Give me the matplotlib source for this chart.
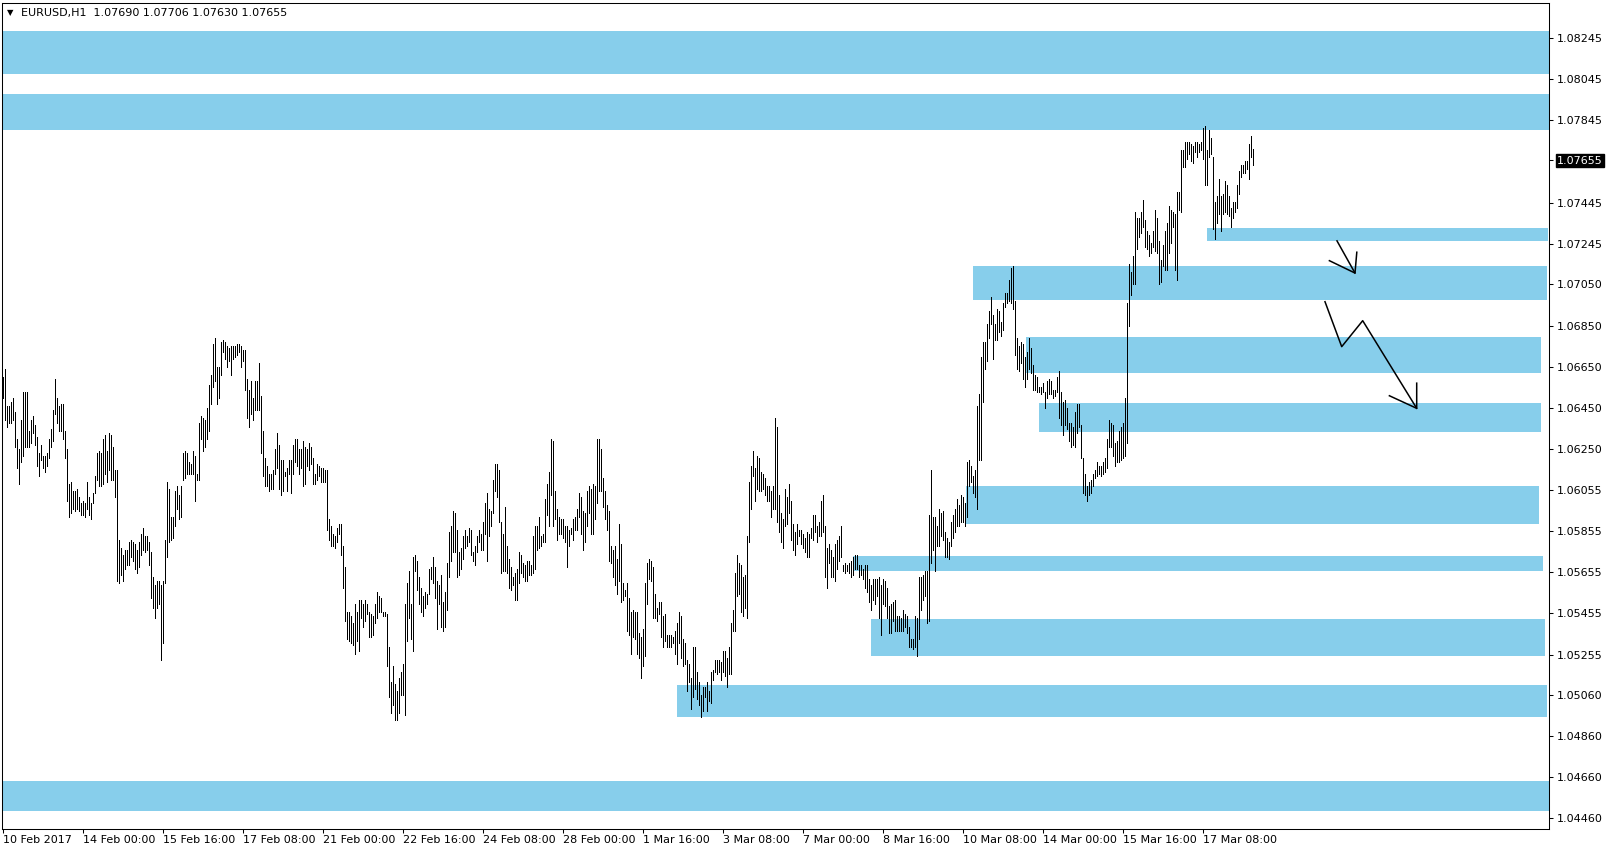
import matplotlib
matplotlib.use("Agg")
import matplotlib.pyplot as plt

# ---------------- data ----------------
title_text = "EURUSD,H1  1.07690 1.07706 1.07630 1.07655"
last_price = 1.07655

high = [
 1.0660,1.0664,1.0646,1.0646,1.0648,1.0650,1.0643,1.0630,1.0625,1.0639,
 1.0653,1.0653,1.0653,1.0634,1.0639,1.0641,1.0637,1.0631,1.0623,1.0627,
 1.0622,1.0622,1.0623,1.0630,1.0635,1.0644,1.0659,1.0650,1.0646,1.0647,
 1.0647,1.0634,1.0625,1.0608,1.0609,1.0605,1.0605,1.0606,1.0602,1.0599,
 1.0600,1.0599,1.0609,1.0602,1.0599,1.0604,1.0612,1.0623,1.0624,1.0623,
 1.0630,1.0632,1.0624,1.0633,1.0632,1.0626,1.0615,1.0615,1.0581,1.0577,
 1.0574,1.0576,1.0576,1.0580,1.0581,1.0580,1.0579,1.0576,1.0580,1.0584,
 1.0587,1.0583,1.0583,1.0580,1.0575,1.0563,1.0559,1.0561,1.0561,1.0559,
 1.0561,1.0581,1.0609,1.0606,1.0592,1.0592,1.0605,1.0607,1.0603,1.0607,
 1.0623,1.0624,1.0623,1.0619,1.0618,1.0624,1.0622,1.0613,1.0638,1.0641,
 1.0640,1.0639,1.0645,1.0656,1.0661,1.0676,1.0679,1.0665,1.0665,1.0677,
 1.0678,1.0677,1.0675,1.0674,1.0675,1.0675,1.0675,1.0676,1.0676,1.0675,
 1.0673,1.0673,1.0659,1.0654,1.0658,1.0650,1.0658,1.0658,1.0667,1.0651,
 1.0634,1.0621,1.0617,1.0613,1.0613,1.0615,1.0625,1.0633,1.0627,1.0620,
 1.0620,1.0614,1.0616,1.0620,1.0620,1.0627,1.0630,1.0630,1.0625,1.0625,
 1.0629,1.0626,1.0625,1.0628,1.0626,1.0621,1.0613,1.0618,1.0617,1.0616,
 1.0616,1.0615,1.0615,1.0591,
 1.0588,1.0584,1.0583,1.0587,1.0589,1.0589,1.0578,1.0568,1.0546,1.0546,
 1.0544,1.0541,1.0550,1.0546,1.0552,1.0552,1.0550,1.0552,1.0550,1.0546,
 1.0545,1.0544,1.0550,1.0556,1.0554,1.0553,1.0546,1.0546,1.0545,1.0529,
 1.0512,1.0520,1.0511,1.0508,1.0514,1.0517,1.0521,1.0550,1.0560,1.0566,
 1.0550,1.0573,1.0574,1.0571,1.0563,1.0558,1.0554,1.0556,1.0555,1.0567,
 1.0568,1.0573,1.0568,1.0561,1.0559,1.0564,1.0551,1.0556,1.0570,1.0585,
 1.0588,1.0595,1.0594,1.0586,1.0575,1.0577,1.0583,1.0586,1.0583,1.0587,
 1.0586,1.0575,1.0578,1.0583,1.0586,1.0584,1.0590,1.0599,1.0604,1.0596,
 1.0595,1.0610,1.0618,1.0618,1.0615,1.0590,1.0584,1.0597,1.0578,1.0572,
 1.0568,1.0563,1.0565,1.0567,1.0575,1.0574,1.0570,1.0569,1.0571,1.0571,
 1.0569,1.0583,1.0588,1.0588,1.0592,1.0583,1.0584,1.0601,1.0608,1.0614,
 1.0630,1.0629,1.0605,1.0596,1.0592,1.0591,1.0591,1.0588,1.0588,1.0586,
 1.0587,1.0591,1.0592,1.0596,1.0604,1.0602,1.0595,1.0594,1.0605,1.0607,
 1.0606,1.0608,1.0607,1.0630,1.0630,1.0625,1.0611,1.0605,1.0598,1.0595,
 1.0578,1.0576,1.0578,1.0572,1.0589,1.0579,1.0560,1.0557,1.0560,1.0553,
 1.0546,1.0547,1.0546,1.0546,1.0536,
 1.0534,1.0538,1.0560,1.0570,1.0572,1.0571,1.0568,1.0555,1.0548,1.0551,
 1.0551,1.0544,1.0545,1.0535,1.0535,1.0535,1.0534,1.0537,1.0541,1.0546,
 1.0544,1.0533,1.0531,1.0523,1.0521,1.0514,1.0529,1.0529,1.0517,1.0512,
 1.0506,1.0510,1.0510,1.0512,1.0508,1.0517,1.0518,1.0523,1.0523,1.0523,
 1.0522,1.0527,1.0527,1.0524,1.0529,1.0541,1.0547,1.0565,1.0574,1.0570,
 1.0569,1.0563,1.0564,1.0583,1.0609,1.0617,1.0624,1.0616,1.0622,1.0621,
 1.0614,1.0613,1.0611,1.0607,1.0607,1.0605,1.0607,1.0640,1.0636,1.0603,
 1.0594,1.0591,1.0606,1.0602,1.0608,1.0600,1.0589,1.0585,1.0589,1.0586,
 1.0586,1.0584,1.0582,1.0585,1.0584,1.0587,1.0593,1.0593,1.0588,1.0590,
 1.0600,1.0603,1.0588,1.0577,1.0579,1.0576,1.0573,1.0579,1.0581,1.0583,
 1.0588,1.0569,1.0570,1.0569,1.0570,1.0571,1.0573,1.0574,1.0574,1.0569,
 1.0569,1.0567,1.0569,1.0569,1.0562,1.0559,1.0562,1.0562,1.0562,1.0563,
 1.0559,1.0562,1.0561,1.0558,1.0549,1.0550,1.0551,1.0552,1.0544,1.0544,
 1.0543,1.0547,1.0545,1.0544,1.0539,1.0533,1.0533,1.0544,1.0543,1.0563,
 1.0563,1.0564,1.0566,1.0566,1.0593,1.0615,1.0592,1.0592,1.0588,1.0596,
 1.0594,1.0595,1.0585,1.0582,1.0580,
 1.0590,1.0593,1.0596,1.0601,1.0598,1.0603,1.0602,1.0599,1.0619,1.0620,
 1.0617,1.0612,1.0615,1.0646,1.0652,1.0670,1.0677,1.0677,1.0686,1.0692,
 1.0699,1.0690,1.0686,1.0693,1.0692,1.0687,1.0696,1.0701,1.0701,1.0707,
 1.0713,1.0714,1.0697,1.0679,1.0675,1.0677,1.0676,1.0670,1.0672,1.0679,
 1.0674,1.0666,1.0661,1.0660,1.0655,1.0655,1.0657,1.0653,1.0658,1.0659,
 1.0658,1.0654,1.0654,1.0660,1.0663,1.0653,1.0648,1.0649,1.0645,1.0638,
 1.0638,1.0636,1.0643,1.0647,1.0647,1.0637,1.0621,1.0613,1.0607,1.0609,
 1.0610,1.0613,1.0615,1.0619,1.0617,1.0617,1.0619,1.0621,1.0630,1.0639,
 1.0638,1.0637,1.0628,1.0629,1.0634,
 1.0636,1.0638,1.0650,1.0696,1.0715,
 1.0711,1.0719,1.0740,1.0737,1.0737,1.0740,1.0746,1.0736,1.0731,1.0729,
 1.0725,1.0731,1.0741,1.0737,1.0726,1.0717,1.0724,1.0731,1.0735,1.0743,
 1.0741,1.0740,1.0739,1.0750,1.0750,1.0770,1.0770,1.0774,1.0774,1.0774,
 1.0773,1.0772,1.0774,1.0774,1.0773,1.0774,1.0781,1.0782,1.0770,1.0780,
 1.0776,1.0767,1.0745,1.0748,1.0756,1.0748,1.0749,1.0755,1.0753,1.0748,
 1.0742,1.0745,1.0745,1.0753,1.0760,1.0763,1.0763,1.0765,1.0765,1.0773,
 1.0777,1.07706,
]

low = [
 1.0650,1.0639,1.0636,1.0638,1.0638,1.0639,1.0626,1.0616,1.0608,1.0619,
 1.0622,1.0626,1.0626,1.0626,1.0628,1.0633,1.0627,1.0617,1.0612,1.0620,
 1.0616,1.0614,1.0617,1.0621,1.0626,1.0629,1.0642,1.0638,1.0634,1.0634,
 1.0630,1.0621,1.0600,1.0592,1.0594,1.0596,1.0595,1.0596,1.0595,1.0593,
 1.0593,1.0592,1.0596,1.0593,1.0591,1.0599,1.0604,1.0610,1.0607,1.0607,
 1.0608,1.0613,1.0609,1.0615,1.0610,1.0610,1.0602,1.0561,1.0560,1.0564,
 1.0561,1.0567,1.0569,1.0569,1.0573,1.0571,1.0567,1.0565,1.0568,1.0574,
 1.0576,1.0575,1.0576,1.0569,1.0553,1.0548,1.0543,1.0548,1.0550,1.0523,
 1.0531,1.0560,1.0573,1.0580,1.0581,1.0582,1.0588,1.0596,1.0591,1.0592,
 1.0610,1.0611,1.0613,1.0613,1.0613,1.0613,1.0600,1.0610,1.0610,1.0630,
 1.0624,1.0626,1.0630,1.0634,1.0647,1.0655,1.0658,1.0647,1.0650,1.0661,
 1.0672,1.0669,1.0665,1.0668,1.0661,1.0669,1.0670,1.0671,1.0672,1.0665,
 1.0668,1.0654,1.0640,1.0636,1.0642,1.0639,1.0644,1.0644,1.0644,1.0623,
 1.0612,1.0607,1.0607,1.0605,1.0606,1.0606,1.0613,1.0616,1.0606,1.0603,
 1.0605,1.0612,1.0605,1.0613,1.0604,1.0613,1.0619,1.0617,1.0613,1.0616,
 1.0607,1.0608,1.0617,1.0615,1.0618,1.0608,1.0608,1.0610,1.0612,1.0609,
 1.0609,1.0609,1.0586,1.0581,
 1.0578,1.0578,1.0577,1.0580,1.0584,1.0574,1.0558,1.0542,1.0533,1.0532,
 1.0531,1.0530,1.0526,1.0532,1.0527,1.0543,1.0539,1.0542,1.0545,1.0534,
 1.0534,1.0535,1.0541,1.0543,1.0546,1.0546,1.0544,1.0544,1.0520,1.0505,
 1.0497,1.0501,1.0494,1.0494,1.0497,1.0506,1.0506,1.0496,1.0532,1.0543,
 1.0533,1.0527,1.0566,1.0557,1.0550,1.0546,1.0544,1.0548,1.0550,1.0555,
 1.0562,1.0560,1.0553,1.0538,1.0550,1.0539,1.0537,1.0539,1.0547,1.0563,
 1.0571,1.0575,1.0575,1.0563,1.0564,1.0567,1.0572,1.0577,1.0578,1.0580,
 1.0574,1.0571,1.0569,1.0575,1.0580,1.0576,1.0576,1.0584,1.0571,1.0583,
 1.0588,1.0594,1.0605,1.0602,1.0590,1.0565,1.0566,1.0566,1.0565,1.0558,
 1.0557,1.0559,1.0552,1.0552,1.0560,1.0565,1.0563,1.0561,1.0561,1.0564,
 1.0564,1.0565,1.0567,1.0576,1.0577,1.0578,1.0580,1.0580,1.0593,1.0588,
 1.0603,1.0588,1.0591,1.0581,1.0584,1.0584,1.0582,1.0580,1.0568,1.0578,
 1.0584,1.0581,1.0586,1.0586,1.0592,1.0584,1.0576,1.0580,1.0588,1.0594,
 1.0584,1.0584,1.0591,1.0599,1.0605,1.0605,1.0597,1.0591,1.0586,1.0571,
 1.0570,1.0563,1.0559,1.0555,1.0561,1.0551,1.0552,1.0554,1.0537,1.0535,
 1.0526,1.0534,1.0533,1.0526,1.0524,
 1.0514,1.0520,1.0525,1.0550,1.0562,1.0561,1.0543,1.0543,1.0542,1.0545,
 1.0534,1.0529,1.0532,1.0529,1.0529,1.0529,1.0531,1.0526,1.0521,1.0531,
 1.0524,1.0520,1.0521,1.0508,1.0512,1.0499,1.0505,1.0509,1.0504,1.0501,
 1.0495,1.0498,1.0505,1.0498,1.0503,1.0502,1.0513,1.0517,1.0516,1.0517,
 1.0513,1.0517,1.0515,1.0510,1.0516,1.0516,1.0537,1.0537,1.0554,1.0555,
 1.0546,1.0544,1.0548,1.0543,1.0580,1.0596,1.0612,1.0600,1.0606,1.0605,
 1.0605,1.0606,1.0603,1.0600,1.0600,1.0592,1.0596,1.0596,1.0590,1.0585,
 1.0580,1.0577,1.0588,1.0589,1.0594,1.0581,1.0576,1.0574,1.0579,1.0583,
 1.0579,1.0577,1.0575,1.0573,1.0573,1.0582,1.0581,1.0585,1.0580,1.0583,
 1.0583,1.0585,1.0563,1.0558,1.0570,1.0563,1.0563,1.0561,1.0567,1.0571,
 1.0573,1.0566,1.0565,1.0566,1.0565,1.0563,1.0564,1.0567,1.0567,1.0563,
 1.0564,1.0562,1.0558,1.0556,1.0551,1.0547,1.0552,1.0550,1.0554,1.0543,
 1.0535,1.0550,1.0549,1.0543,1.0536,1.0536,1.0542,1.0537,1.0537,1.0537,
 1.0537,1.0537,1.0539,1.0536,1.0529,1.0529,1.0528,1.0529,1.0525,1.0533,
 1.0547,1.0552,1.0554,1.0541,1.0542,1.0570,1.0576,1.0566,1.0578,1.0578,
 1.0583,1.0581,1.0573,1.0573,1.0572,
 1.0578,1.0582,1.0585,1.0588,1.0588,1.0590,1.0590,1.0588,1.0592,1.0607,
 1.0609,1.0604,1.0602,1.0596,1.0620,1.0620,1.0648,1.0664,1.0668,1.0679,
 1.0686,1.0669,1.0678,1.0678,1.0682,1.0680,1.0683,1.0694,1.0696,1.0697,
 1.0696,1.0693,1.0671,1.0664,1.0663,1.0667,1.0659,1.0655,1.0659,1.0664,
 1.0662,1.0654,1.0654,1.0653,1.0653,1.0652,1.0653,1.0645,1.0650,1.0652,
 1.0652,1.0650,1.0651,1.0653,1.0640,1.0637,1.0632,1.0637,1.0635,1.0629,
 1.0626,1.0627,1.0626,1.0633,1.0636,1.0621,1.0604,1.0603,1.0600,1.0603,
 1.0604,1.0607,1.0611,1.0612,1.0613,1.0612,1.0613,1.0614,1.0616,1.0626,
 1.0626,1.0622,1.0617,1.0619,1.0619,
 1.0620,1.0621,1.0622,1.0628,1.0685,
 1.0700,1.0705,1.0705,1.0722,1.0728,1.0730,1.0733,1.0723,1.0722,1.0719,
 1.0720,1.0723,1.0721,1.0720,1.0705,1.0706,1.0714,1.0712,1.0712,1.0720,
 1.0725,1.0733,1.0712,1.0707,1.0741,1.0740,1.0762,1.0762,1.0766,1.0768,
 1.0765,1.0764,1.0769,1.0767,1.0769,1.0770,1.0766,1.0753,1.0753,1.0767,
 1.0768,1.0732,1.0727,1.0735,1.0739,1.0731,1.0739,1.0740,1.0739,1.0738,
 1.0733,1.0737,1.0740,1.0742,1.0749,1.0757,1.0759,1.0759,1.0761,1.0756,
 1.0767,1.07630,
]

# supply/demand zones (price top/bottom, start/end in bar index)
zone_top    = [1.08280, 1.07971, 1.07324, 1.07139, 1.06795, 1.06477, 1.06073, 1.05733, 1.05427, 1.05107, 1.04642]
zone_bottom = [1.08071, 1.07797, 1.07261, 1.06974, 1.06622, 1.06334, 1.05890, 1.05660, 1.05246, 1.04952, 1.04498]
zone_start  = [-0.5, -0.5, 602, 484.75, 511.25, 518, 481.5, 424.75, 434, 337, -0.5]
zone_end    = [772.75, 772.75, 772.5, 772, 769, 769, 768, 770, 771, 772, 772.75]

# hand-drawn arrows (bar index, price)
arrow1_x = [667, 676]
arrow1_y = [1.07261, 1.07105]
head1_x = [663.2, 676, 676.9]
head1_y = [1.07165, 1.07105, 1.07206]
arrow2_x = [661, 669.35, 679.85, 706.85]
arrow2_y = [1.06966, 1.06748, 1.06874, 1.06449]
head2_x = [693.2, 706.85, 706.85]
head2_y = [1.06510, 1.06449, 1.06571]

ytick_values = [1.08245, 1.08045, 1.07845, 1.07655, 1.07445, 1.07245, 1.07050, 1.06850,
                1.06650, 1.06450, 1.06250, 1.06055, 1.05855, 1.05655, 1.05455, 1.05255,
                1.05060, 1.04860, 1.04660, 1.04460]
xtick_bars = [0, 40, 80, 120, 160, 200, 240, 280, 320, 360, 400, 440, 480, 520, 560, 600]
xtick_labels = ["10 Feb 2017", "14 Feb 00:00", "15 Feb 16:00", "17 Feb 08:00", "21 Feb 00:00",
                "22 Feb 16:00", "24 Feb 08:00", "28 Feb 00:00", "1 Mar 16:00", "3 Mar 08:00",
                "7 Mar 00:00", "8 Mar 16:00", "10 Mar 08:00", "14 Mar 00:00", "15 Mar 16:00",
                "17 Mar 08:00"]

# ---------------- figure ----------------
W, H = 1610, 852
fig = plt.figure(figsize=(W / 100, H / 100), dpi=100)
fig.patch.set_facecolor("white")
L_px, R_px, T_px, B_px = 2, 1548.5, 2.5, 829
ax = fig.add_axes([L_px / W, 1 - B_px / H, (R_px - L_px) / W, (B_px - T_px) / H])
ax.set_facecolor("white")

zone_color = "#87CEEB"
for zt, zb, zs, ze in zip(zone_top, zone_bottom, zone_start, zone_end):
    ax.fill_between([zs, ze], [zb, zb], [zt, zt], color=zone_color, lw=0, zorder=1)

xs = list(range(len(high)))
ax.vlines(xs, low, high, colors="black", linewidth=0.6, antialiased=False, zorder=3)

ax.plot(arrow1_x, arrow1_y, color="black", lw=1.1, zorder=4)
ax.plot(head1_x, head1_y, color="black", lw=1.1, zorder=4, solid_joinstyle="miter")
ax.plot(arrow2_x, arrow2_y, color="black", lw=1.1, zorder=4)
ax.plot(head2_x, head2_y, color="black", lw=1.1, zorder=4, solid_joinstyle="miter")

ax.set_xlim(-0.5, 772.75)
ax.set_ylim(1.04409, 1.08417)

for s in ax.spines.values():
    s.set_color("black")
    s.set_linewidth(0.75)

ax.yaxis.tick_right()
ax.set_yticks(ytick_values)
ax.set_yticklabels([f"{v:.5f}" for v in ytick_values])
ax.tick_params(axis="y", direction="out", length=3, width=0.75, pad=3, labelsize=8,
               colors="black", right=True, left=False)
for lbl, v in zip(ax.get_yticklabels(), ytick_values):
    if abs(v - last_price) < 1e-9:
        lbl.set_color("white")
        lbl.set_bbox(dict(boxstyle="square,pad=0.12", facecolor="black", edgecolor="black"))

ax.set_xticks(xtick_bars)
ax.set_xticklabels(xtick_labels)
ax.tick_params(axis="x", direction="out", length=3, width=0.75, pad=1, labelsize=8, colors="black")
for lbl in ax.get_xticklabels():
    lbl.set_horizontalalignment("left")

fig.text(7 / W, 1 - 13 / H, "\u25BC", fontsize=6, va="center", ha="left", color="black")
fig.text(21 / W, 1 - 13 / H, title_text, fontsize=8, va="center", ha="left", color="black")

fig.savefig("out.png", dpi=100, facecolor="white")
